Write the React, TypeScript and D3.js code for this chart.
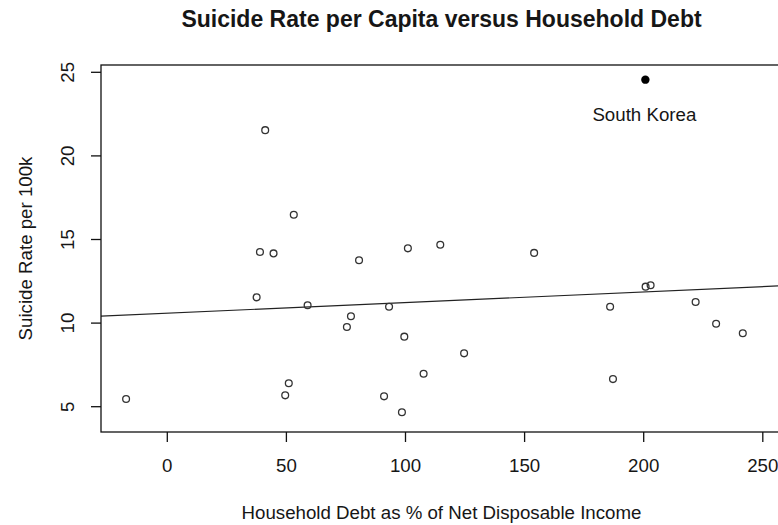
import React from "react";
import * as d3 from "d3";

const debt: number[] = [
  -17.3, 41.1, 53.1, 38.9, 44.6, 80.5, 101.0, 114.6, 37.5, 154.0,
  200.8, 202.9, 185.9, 221.8, 230.4, 241.6, 58.9, 77.1, 75.4, 93.1,
  99.5, 124.6, 107.6, 51.0, 49.5, 91.0, 98.5, 187.1,
];
const suicide: number[] = [
  5.46, 21.54, 16.48, 14.25, 14.17, 13.76, 14.47, 14.69, 11.54, 14.2,
  12.18, 12.26, 10.98, 11.26, 9.96, 9.39, 11.07, 10.41, 9.77, 10.98,
  9.19, 8.19, 6.97, 6.40, 5.68, 5.62, 4.67, 6.65,
];
const highlightName = "South Korea";
const highlightDebt = 200.7;
const highlightRate = 24.56;
const fitIntercept = 10.59;
const fitSlope = 0.00637;
const xTicks: number[] = [0, 50, 100, 150, 200, 250];
const yTicks: number[] = [5, 10, 15, 20, 25];
const title = "Suicide Rate per Capita versus Household Debt";
const xLabel = "Household Debt as % of Net Disposable Income";
const yLabel = "Suicide Rate per 100k";

const W = 778;
const H = 525;
const left = 101;
const right = 782;
const top = 65;
const bottom = 432;

const x = d3.scaleLinear().domain([0, 250]).range([167.3, 762.8]);
const y = d3.scaleLinear().domain([5, 25]).range([406.7, 72.3]);

const font = "'Liberation Sans', Arial, sans-serif";
const textColor = "#161616";
const fs = 18.7;

export default function App() {
  const x0 = x.invert(left);
  const x1 = x.invert(right);
  const line = d3
    .line<number>()
    .x((d) => x(d))
    .y((d) => y(fitIntercept + fitSlope * d));
  return (
    <svg
      width={W}
      height={H}
      style={{ position: "absolute", left: 0, top: 0, background: "#fff" }}
      fontFamily={font}
    >
      <rect x={0} y={0} width={W} height={H} fill="#fff" />
      <text
        x={(left + right) / 2}
        y={27}
        textAnchor="middle"
        fontSize={23}
        fontWeight="bold"
        fill={textColor}
      >
        {title}
      </text>
      <defs>
        <clipPath id="plotclip">
          <rect x={left} y={top} width={right - left} height={bottom - top} />
        </clipPath>
      </defs>
      <g clipPath="url(#plotclip)">
        <path d={line([x0, x1]) || ""} fill="none" stroke="#222" strokeWidth={1.2} />
      </g>
      {debt.map((d, i) => (
        <circle
          key={i}
          cx={x(d)}
          cy={y(suicide[i])}
          r={3.4}
          fill="none"
          stroke="#333"
          strokeWidth={1.3}
        />
      ))}
      <circle cx={x(highlightDebt)} cy={y(highlightRate)} r={4.2} fill="#000" />
      <text
        x={x(highlightDebt) - 1}
        y={121}
        textAnchor="middle"
        fontSize={fs}
        fill={textColor}
      >
        {highlightName}
      </text>
      <rect
        x={left}
        y={top}
        width={right - left}
        height={bottom - top}
        fill="none"
        stroke="#111"
        strokeWidth={1.3}
      />
      {xTicks.map((t) => (
        <g key={"x" + t}>
          <line x1={x(t)} x2={x(t)} y1={bottom} y2={bottom + 10} stroke="#111" strokeWidth={1.3} />
          <text x={x(t)} y={472} textAnchor="middle" fontSize={fs} fill={textColor}>
            {t}
          </text>
        </g>
      ))}
      {yTicks.map((t) => (
        <g key={"y" + t}>
          <line x1={left - 10} x2={left} y1={y(t)} y2={y(t)} stroke="#111" strokeWidth={1.3} />
          <text
            transform={`translate(74, ${y(t)}) rotate(-90)`}
            textAnchor="middle"
            fontSize={fs}
            fill={textColor}
          >
            {t}
          </text>
        </g>
      ))}
      <text
        x={(left + right) / 2}
        y={519}
        textAnchor="middle"
        fontSize={fs}
        fill={textColor}
      >
        {xLabel}
      </text>
      <text
        transform={`translate(31.5, ${(top + bottom) / 2}) rotate(-90)`}
        textAnchor="middle"
        fontSize={fs}
        fill={textColor}
      >
        {yLabel}
      </text>
    </svg>
  );
}
